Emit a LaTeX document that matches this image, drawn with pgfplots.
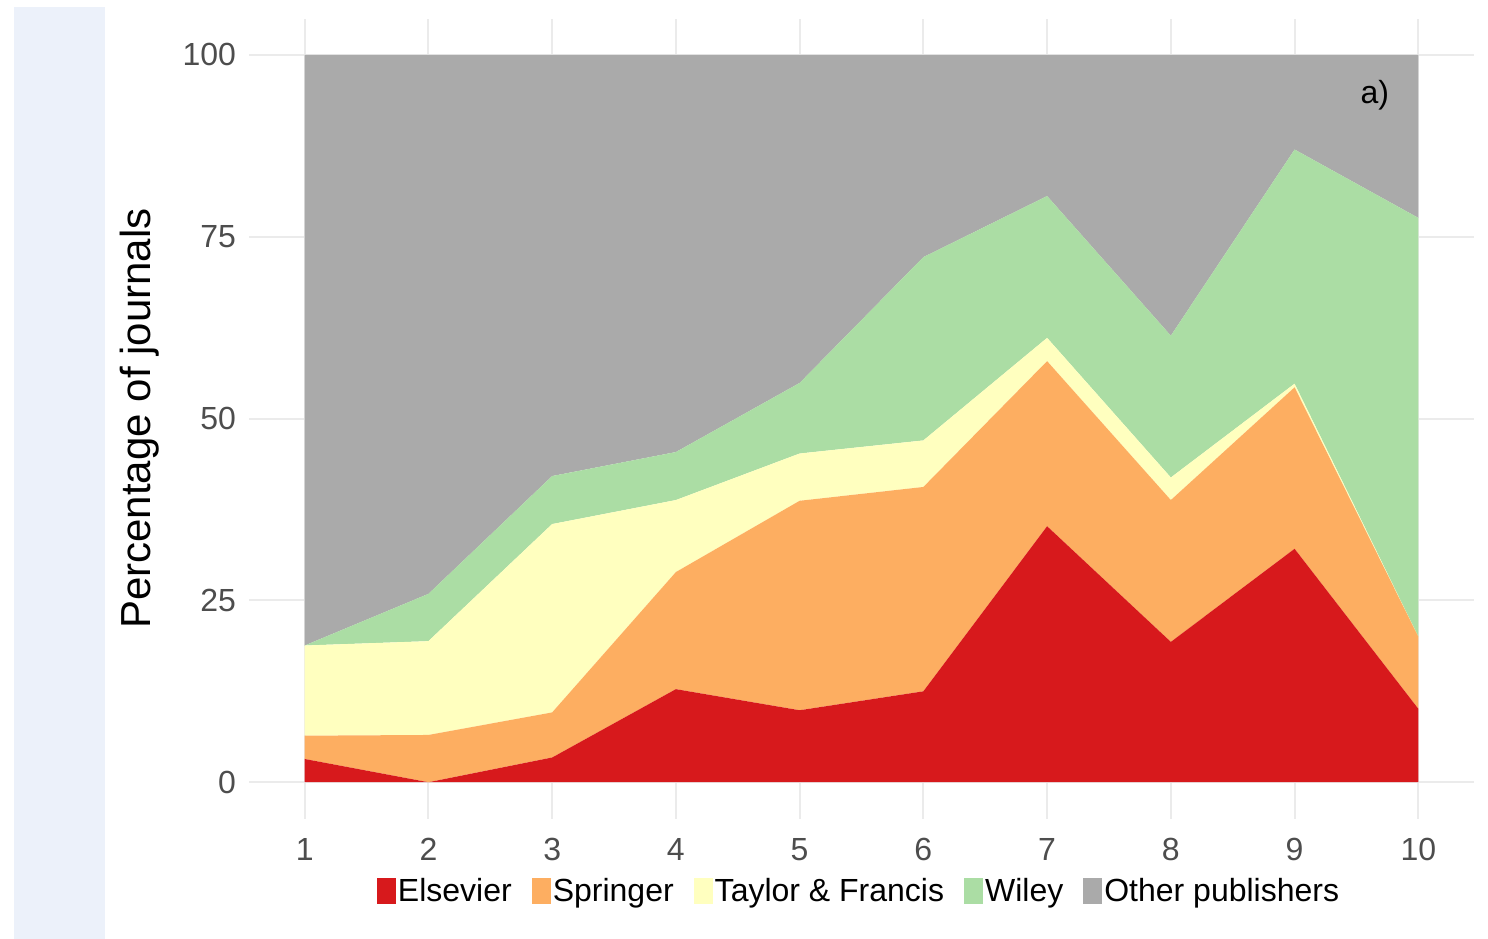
\documentclass[border=0pt]{standalone}
\usepackage{pgfplots}
\pgfplotsset{compat=1.18}
\usepackage{fontspec}
\setmainfont{Liberation Sans}
\definecolor{cEls}{HTML}{D7191C}
\definecolor{cSpr}{HTML}{FDAE61}
\definecolor{cTF}{HTML}{FFFFBF}
\definecolor{cWil}{HTML}{ABDDA4}
\definecolor{cOth}{HTML}{AAAAAA}
\definecolor{gridc}{HTML}{EBEBEB}
\definecolor{tickc}{HTML}{4D4D4D}
\definecolor{stripc}{HTML}{ECF1FA}
\begin{document}
\begin{tikzpicture}
\useasboundingbox (-124.5pt,-60pt) rectangle (619.5pt,409.3pt);
\fill[stripc] (-117.5pt,-60pt) rectangle (-72pt,405.8pt);
\begin{axis}[
 at={(0,0)}, anchor=south west,
 scale only axis, width=612.5pt, height=400pt,
 xmin=0.55, xmax=10.45, ymin=-5, ymax=105,
 xtick={1,...,10}, ytick={0,25,50,75,100},
 axis line style={draw=none},
 major tick length=0pt, tick style={draw=none},
 grid=major, major grid style={gridc, line width=1pt},
 stack plots=y,
 /pgf/number format/assume math mode=true,
 ticklabel style={font=\fontsize{16}{19}\selectfont, text=tickc},
 yticklabel style={xshift=-3pt},
 xticklabel style={yshift=-6.2pt},
 every axis y label/.style={at={(axis description cs:-0.089,0.5)}, rotate=90, anchor=center, font=\fontsize{21}{25}\selectfont},
 ylabel={Percentage of journals},
 legend columns=5,
 legend style={at={(0.498,-0.091)}, anchor=center, draw=none, fill=none,
   font=\fontsize{16}{19}\selectfont,
   /tikz/every even column/.append style={column sep=9pt},
   nodes={inner xsep=1pt}},
 legend image code/.code={\fill[#1] (0pt,-6.5pt) rectangle (9.5pt,6.5pt);},
 extra description/.code={\node[font=\fontsize{16}{19}\selectfont, anchor=center] at (0.919,0.904) {a)};},
]
\addplot[fill=cEls, draw=none] coordinates {(1,3.2) (2,0) (3,3.4) (4,12.8) (5,9.9) (6,12.5) (7,35.2) (8,19.3) (9,32.1) (10,10.1)} \closedcycle;
\addlegendentry{Elsevier}
\addplot[fill=cSpr, draw=none] coordinates {(1,3.2) (2,6.5) (3,6.2) (4,16.1) (5,28.8) (6,28.1) (7,22.7) (8,19.5) (9,22.2) (10,9.9)} \closedcycle;
\addlegendentry{Springer}
\addplot[fill=cTF, draw=none] coordinates {(1,12.4) (2,12.9) (3,25.9) (4,9.9) (5,6.5) (6,6.4) (7,3.2) (8,3.1) (9,0.5) (10,0)} \closedcycle;
\addlegendentry{Taylor \& Francis}
\addplot[fill=cWil, draw=none] coordinates {(1,0) (2,6.5) (3,6.6) (4,6.6) (5,9.7) (6,25.2) (7,19.5) (8,19.5) (9,32.2) (10,57.6)} \closedcycle;
\addlegendentry{Wiley}
\addplot[fill=cOth, draw=none] coordinates {(1,81.2) (2,74.1) (3,57.9) (4,54.6) (5,45.1) (6,27.8) (7,19.4) (8,38.6) (9,13.0) (10,22.4)} \closedcycle;
\addlegendentry{Other publishers}
\end{axis}
\end{tikzpicture}
\end{document}
